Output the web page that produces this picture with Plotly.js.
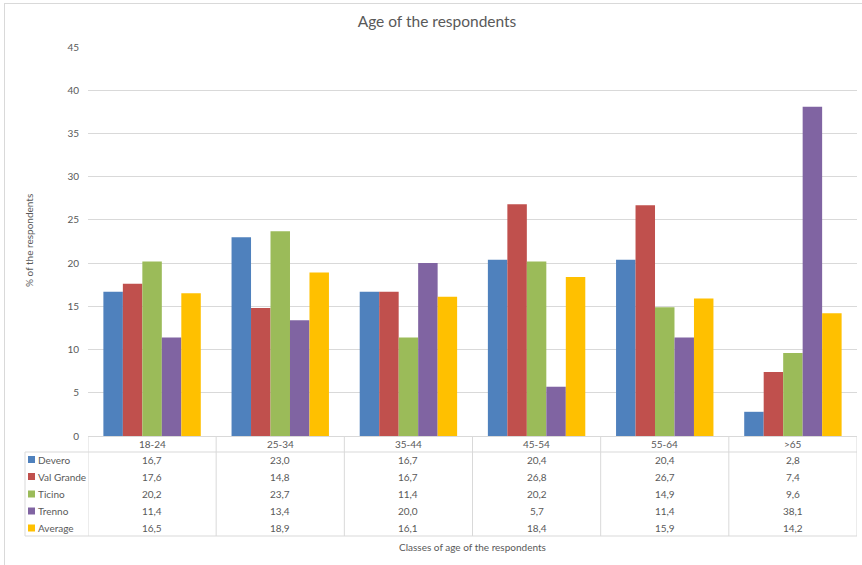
<!DOCTYPE html>
<html>
<head>
<meta charset="utf-8">
<script src="https://cdn.plot.ly/plotly-3.0.1.min.js"></script>
<style>html,body{margin:0;padding:0;background:#fff;}#chart{width:862px;height:565px;}</style>
</head>
<body>
<div id="chart"></div>
<script>
const categories = ["18-24", "25-34", "35-44", "45-54", "55-64", ">65"];
const seriesNames = ["Devero", "Val Grande", "Ticino", "Trenno", "Average"];
const devero    = [16.7, 23.0, 16.7, 20.4, 20.4, 2.8];
const valGrande = [17.6, 14.8, 16.7, 26.8, 26.7, 7.4];
const ticino    = [20.2, 23.7, 11.4, 20.2, 14.9, 9.6];
const trenno    = [11.4, 13.4, 20.0, 5.7, 11.4, 38.1];
const average   = [16.5, 18.9, 16.1, 18.4, 15.9, 14.2];
const seriesValues = [devero, valGrande, ticino, trenno, average];
const colors = ["#4F81BD", "#C0504D", "#9BBB59", "#8064A2", "#FFC000"];

const W = 862, H = 565;
const M = {l: 88, r: 5, t: 47, b: 129};
const plotW = W - M.l - M.r, plotH = H - M.t - M.b;
const px = x => (x - M.l) / plotW;           // pixel x -> paper
const py = y => (H - M.b - y) / plotH;        // pixel y -> paper
const FONT = "Lato, 'Open Sans', sans-serif";
const TXT = "#595959";
const GRID = "#D9D9D9";

const traces = seriesNames.map((name, i) => ({
  type: "bar",
  name: name,
  x: categories.map((c, k) => k),
  y: seriesValues[i],
  marker: {color: colors[i], line: {width: 0}},
  hoverinfo: "skip"
}));

const shapes = [];
const annotations = [];
const line = (xref, x0, x1, y0, y1) => shapes.push({type: "line", xref: xref, yref: "paper",
  x0: x0, x1: x1, y0: y0, y1: y1, line: {color: GRID, width: 1}});

// table geometry (pixels)
const headerBottom = 452, tableBottom = 536, tableLeft = 25;
const rowCenters = [459.5, 476.5, 494, 511, 528];

// horizontal lines
line("paper", px(tableLeft), px(857), py(headerBottom), py(headerBottom));
line("paper", px(tableLeft), px(857), py(tableBottom), py(tableBottom));
// vertical lines
line("paper", px(tableLeft), px(tableLeft), py(headerBottom), py(tableBottom));
for (let k = 0; k <= categories.length; k++) {
  line("x", k - 0.5, k - 0.5, py(436), py(tableBottom));
}
// outer chart border (left, top)
line("paper", px(4.5), px(4.5), py(3), py(565));
line("paper", px(4.5), px(862), py(3.5), py(3.5));

// header labels
categories.forEach((c, k) => annotations.push({xref: "x", yref: "paper", x: k, y: py(444),
  text: c, showarrow: false, font: {family: FONT, size: 10, color: TXT}, xanchor: "center", yanchor: "middle"}));

// rows
seriesNames.forEach((name, i) => {
  const yc = py(rowCenters[i]);
  shapes.push({type: "rect", xref: "paper", yref: "paper",
    x0: px(28), x1: px(35), y0: py(rowCenters[i] + 3.5), y1: py(rowCenters[i] - 3.5),
    fillcolor: colors[i], line: {width: 0}});
  annotations.push({xref: "paper", yref: "paper", x: px(36), y: yc, text: name, showarrow: false,
    xanchor: "left", yanchor: "middle", font: {family: FONT, size: 10, color: TXT}});
  seriesValues[i].forEach((v, k) => annotations.push({xref: "x", yref: "paper", x: k, y: yc,
    text: v.toFixed(1).replace(".", ","), showarrow: false, xanchor: "center", yanchor: "middle",
    font: {family: FONT, size: 10, color: TXT}}));
});

// axis titles
annotations.push({xref: "paper", yref: "paper", x: px(472), y: py(547), text: "Classes of age of the respondents",
  showarrow: false, xanchor: "center", yanchor: "middle", font: {family: FONT, size: 10, color: TXT}});
annotations.push({xref: "paper", yref: "paper", x: px(29), y: py(241), text: "% of the respondents",
  textangle: -90, showarrow: false, xanchor: "center", yanchor: "middle", font: {family: FONT, size: 10, color: TXT}});

const layout = {
  width: W, height: H,
  margin: M,
  paper_bgcolor: "#fff", plot_bgcolor: "#fff",
  title: {text: "Age of the respondents", x: 437 / W, xref: "container", xanchor: "center",
    y: 1 - 22 / H, yref: "container", yanchor: "middle",
    font: {family: FONT, size: 15.5, color: TXT}},
  showlegend: false,
  barmode: "group",
  bargap: 0.24,
  bargroupgap: 0,
  xaxis: {range: [-0.5, categories.length - 0.5], showticklabels: false, showgrid: false, zeroline: false,
    showline: true, linecolor: GRID, linewidth: 1, ticks: "", fixedrange: true},
  yaxis: {range: [0, 45], dtick: 5, tick0: 0, showgrid: true, gridcolor: GRID, gridwidth: 1,
    zeroline: false, showline: false, ticks: "", ticklabelstandoff: 8,
    tickfont: {family: FONT, size: 10, color: TXT}, fixedrange: true},
  shapes: shapes,
  annotations: annotations
};

Plotly.newPlot("chart", traces, layout, {displayModeBar: false, staticPlot: true});
</script>
</body>
</html>
